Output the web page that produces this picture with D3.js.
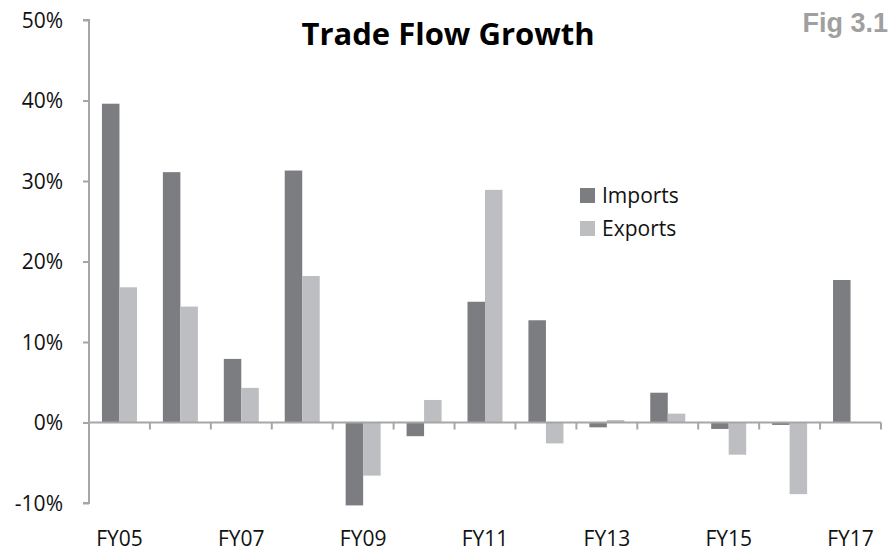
<!DOCTYPE html>
<html>
<head>
<meta charset="utf-8">
<script src="https://cdn.jsdelivr.net/npm/d3@7"></script>
<style>
  body { margin: 0; background: #fff; }
  text { font-family: "Open Sans", sans-serif; fill: #111; }
  .axis path, .axis line { stroke: #a6a6a6; stroke-width: 2; }
</style>
</head>
<body>
<div id="chart"></div>
<script>
// size of the page
var width = 893;
var height = 552;

// chart data
var years = ["FY05", "FY06", "FY07", "FY08", "FY09", "FY10", "FY11", "FY12", "FY13", "FY14", "FY15", "FY16", "FY17"];
var imports = [39.6, 31.1, 7.9, 31.3, -10.3, -1.7, 15.0, 12.7, -0.6, 3.7, -0.8, -0.3, 17.7];
var exports = [16.8, 14.4, 4.3, 18.2, -6.6, 2.8, 28.9, -2.6, 0.3, 1.1, -4.0, -8.9, 0];
var yTicks = [-10, 0, 10, 20, 30, 40, 50];
var seriesNames = ["Imports", "Exports"];
var colors = ["#7c7d81", "#bdbec2"];

var margin = {top: 20, right: 12, bottom: 49, left: 89};

var svg = d3.select("#chart")
    .append("svg")
    .attr("width", width)
    .attr("height", height);

var x = d3.scaleBand()
    .domain(years)
    .range([margin.left, width - margin.right]);

// inner scale for the two bars in each year
var x1 = d3.scaleBand()
    .domain(seriesNames)
    .range([0, x.bandwidth()])
    .paddingOuter(0.74)
    .paddingInner(0);

var y = d3.scaleLinear()
    .domain([-10, 50])
    .range([height - margin.bottom, margin.top]);

// y axis
var yAxis = d3.axisLeft(y)
    .tickValues(yTicks)
    .tickSize(6)
    .tickPadding(20)
    .tickFormat(function(d) { return d + "%"; });

var gy = svg.append("g")
    .attr("class", "axis")
    .attr("transform", "translate(" + margin.left + ",0)")
    .call(yAxis);
gy.select(".domain").attr("d", "M-6," + y(50) + "H0V" + y(-10) + "H-6");
gy.selectAll("text").style("font-size", "21px").attr("dy", "0.35em");

// bars
var rows = years.map(function(d, i) {
    return {year: d, values: [imports[i], exports[i]]};
});

var groups = svg.selectAll(".year")
    .data(rows)
    .enter()
    .append("g")
    .attr("class", "year")
    .attr("transform", function(d) { return "translate(" + x(d.year) + ",0)"; });

groups.selectAll("rect")
    .data(function(d) { return d.values.map(function(v, k) { return {name: seriesNames[k], value: v, k: k}; }); })
    .enter()
    .append("rect")
    .attr("x", function(d) { return x1(d.name); })
    .attr("width", x1.bandwidth())
    .attr("y", function(d) { return y(Math.max(0, d.value)); })
    .attr("height", function(d) { return Math.abs(y(d.value) - y(0)); })
    .style("fill", function(d) { return colors[d.k]; });

// x axis on the zero line, ticks between years
var xAxis = d3.axisBottom(x).tickSize(0).tickFormat("");
var gx = svg.append("g")
    .attr("class", "axis")
    .attr("transform", "translate(0," + y(0) + ")")
    .call(xAxis);
gx.select(".domain").attr("d", "M" + margin.left + ",0H" + (width - margin.right));
gx.selectAll(".sep")
    .data(years.concat(["end"]))
    .enter()
    .append("line")
    .attr("x1", function(d, i) { return i < years.length ? x(d) : x.range()[1]; })
    .attr("x2", function(d, i) { return i < years.length ? x(d) : x.range()[1]; })
    .attr("y1", 0)
    .attr("y2", 7)
    .style("stroke", "#a6a6a6")
    .style("stroke-width", 2);

// year labels every other year, at the bottom
svg.selectAll(".xlabel")
    .data(years.filter(function(d, i) { return i % 2 == 0; }))
    .enter()
    .append("text")
    .attr("class", "xlabel")
    .attr("x", function(d) { return x(d) + x.bandwidth() / 2; })
    .attr("y", 546)
    .attr("text-anchor", "middle")
    .style("font-size", "21px")
    .text(function(d) { return d; });

// title
svg.append("text")
    .attr("x", 448)
    .attr("y", 45)
    .attr("text-anchor", "middle")
    .style("font-size", "31px")
    .style("font-weight", "bold")
    .style("fill", "#000")
    .text("Trade Flow Growth");

svg.append("text")
    .attr("x", 888)
    .attr("y", 32)
    .attr("text-anchor", "end")
    .style("font-family", "'Liberation Sans', Arial, sans-serif")
    .style("font-size", "27px")
    .style("font-weight", "bold")
    .style("fill", "#a0a0a0")
    .text("Fig 3.1");

// legend
var legend = svg.selectAll(".legend")
    .data(seriesNames)
    .enter()
    .append("g")
    .attr("class", "legend")
    .attr("transform", function(d, i) { return "translate(580," + (188 + i * 33) + ")"; });

legend.append("rect")
    .attr("width", 15)
    .attr("height", 15)
    .style("fill", function(d, i) { return colors[i]; });

legend.append("text")
    .attr("x", 22)
    .attr("y", 15)
    .style("font-size", "21px")
    .text(function(d) { return d; });
</script>
</body>
</html>
